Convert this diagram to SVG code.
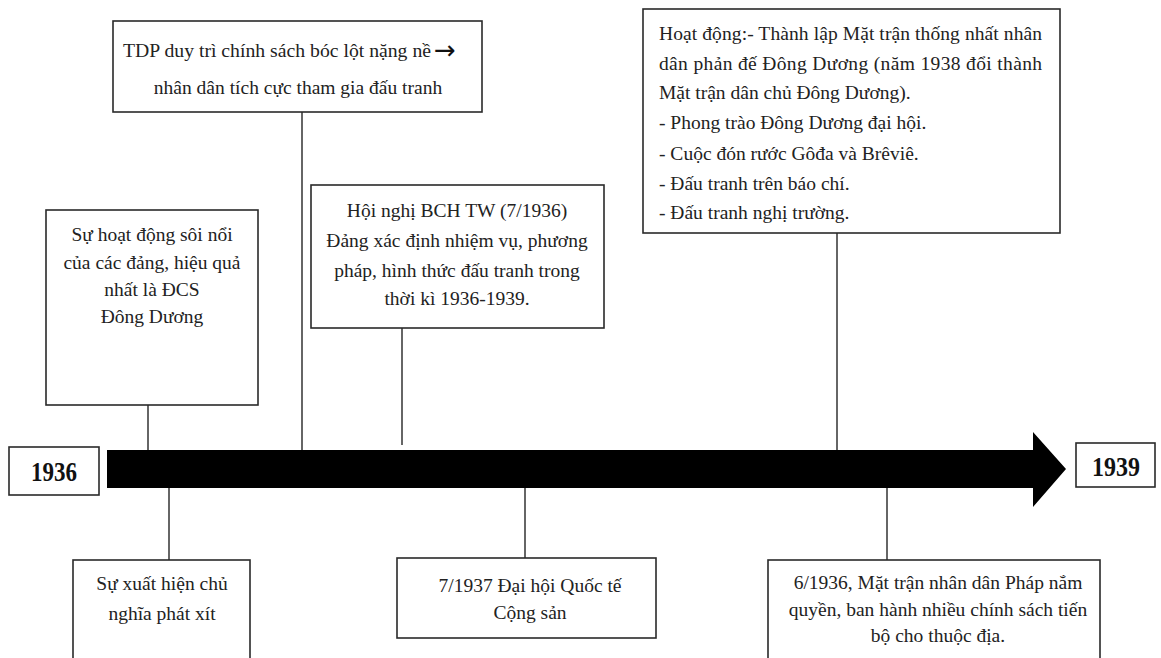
<svg xmlns="http://www.w3.org/2000/svg" width="1161" height="658" viewBox="0 0 1161 658">
  <style>
    .box { fill: #ffffff; stroke: #2a2a2a; stroke-width: 1.6; }
    .link { stroke: #333333; stroke-width: 1.5; fill: none; }
    .t { font-family: "Liberation Serif", "Times New Roman", serif; font-size: 19.5px; fill: #222222; }
    .c { text-anchor: middle; }
    .year { font-family: "Liberation Serif", "Times New Roman", serif; font-size: 27px; font-weight: bold; fill: #111111; text-anchor: middle; }
  </style>

  <rect width="1161" height="658" fill="#ffffff"/>

  <!-- connectors between the timeline and the event boxes -->
  <g id="connectors">
    <line class="link" x1="148" y1="405" x2="148" y2="452"/>
    <line class="link" x1="302" y1="112" x2="302" y2="452"/>
    <line class="link" x1="402" y1="328" x2="402" y2="445"/>
    <line class="link" x1="837" y1="233" x2="837" y2="452"/>
    <line class="link" x1="169" y1="486" x2="169" y2="560"/>
    <line class="link" x1="525" y1="486" x2="525" y2="558"/>
    <line class="link" x1="887" y1="486" x2="887" y2="560"/>
  </g>

  <!-- timeline arrow -->
  <g id="timeline">
    <polygon points="107,450 1033,450 1033,432 1066,469 1033,507 1033,488 107,488" fill="#000000"/>
  </g>

  <g id="year-1936">
    <rect class="box" x="9" y="447" width="90" height="48"/>
    <text class="year" x="54" y="481" textLength="46" lengthAdjust="spacingAndGlyphs">1936</text>
  </g>

  <g id="year-1939">
    <rect class="box" x="1076" y="443" width="79" height="44"/>
    <text class="year" x="1116" y="476" textLength="48" lengthAdjust="spacingAndGlyphs">1939</text>
  </g>

  <g id="node-tdp">
    <rect class="box" x="113" y="21" width="369" height="91"/>
    <text class="t" x="123" y="57" textLength="308" lengthAdjust="spacingAndGlyphs">TDP duy trì chính sách bóc lột nặng nề</text>
    <text x="434" y="59" font-family="DejaVu Sans, sans-serif" font-size="26" fill="#111111">→</text>
    <text class="t c" x="298" y="94">nhân dân tích cực tham gia đấu tranh</text>
  </g>

  <g id="node-parties">
    <rect class="box" x="46" y="210" width="212" height="195"/>
    <text class="t c" x="152" y="241">Sự hoạt động sôi nổi</text>
    <text class="t c" x="152" y="269">của các đảng, hiệu quả</text>
    <text class="t c" x="152" y="296">nhất là ĐCS</text>
    <text class="t c" x="152" y="323">Đông Dương</text>
  </g>

  <g id="node-conference">
    <rect class="box" x="311" y="185" width="293" height="143"/>
    <text class="t c" x="457" y="217">Hội nghị BCH TW (7/1936)</text>
    <text class="t c" x="457" y="247">Đảng xác định nhiệm vụ, phương</text>
    <text class="t c" x="457" y="277">pháp, hình thức đấu tranh trong</text>
    <text class="t c" x="457" y="305">thời kì 1936-1939.</text>
  </g>

  <g id="node-activities">
    <rect class="box" x="643" y="9" width="417" height="224"/>
    <text class="t" x="659" y="40" textLength="383" lengthAdjust="spacing">Hoạt động:- Thành lập Mặt trận thống nhất nhân</text>
    <text class="t" x="659" y="70" textLength="383" lengthAdjust="spacing">dân phản đế Đông Dương (năm 1938 đổi thành</text>
    <text class="t" x="659" y="99">Mặt trận dân chủ Đông Dương).</text>
    <text class="t" x="659" y="129">- Phong trào Đông Dương đại hội.</text>
    <text class="t" x="659" y="160">- Cuộc đón rước Gôđa và Brêviê.</text>
    <text class="t" x="659" y="190">- Đấu tranh trên báo chí.</text>
    <text class="t" x="659" y="219">- Đấu tranh nghị trường.</text>
  </g>

  <g id="node-fascism">
    <rect class="box" x="73" y="560" width="177" height="110"/>
    <text class="t c" x="162" y="590">Sự xuất hiện chủ</text>
    <text class="t c" x="162" y="620">nghĩa phát xít</text>
  </g>

  <g id="node-comintern">
    <rect class="box" x="397" y="558" width="259" height="80"/>
    <text class="t c" x="530" y="592">7/1937 Đại hội Quốc tế</text>
    <text class="t c" x="530" y="619">Cộng sản</text>
  </g>

  <g id="node-popular-front">
    <rect class="box" x="768" y="560" width="332" height="110"/>
    <text class="t c" x="938" y="589">6/1936, Mặt trận nhân dân Pháp nắm</text>
    <text class="t c" x="938" y="616">quyền, ban hành nhiều chính sách tiến</text>
    <text class="t c" x="938" y="642">bộ cho thuộc địa.</text>
  </g>
</svg>
